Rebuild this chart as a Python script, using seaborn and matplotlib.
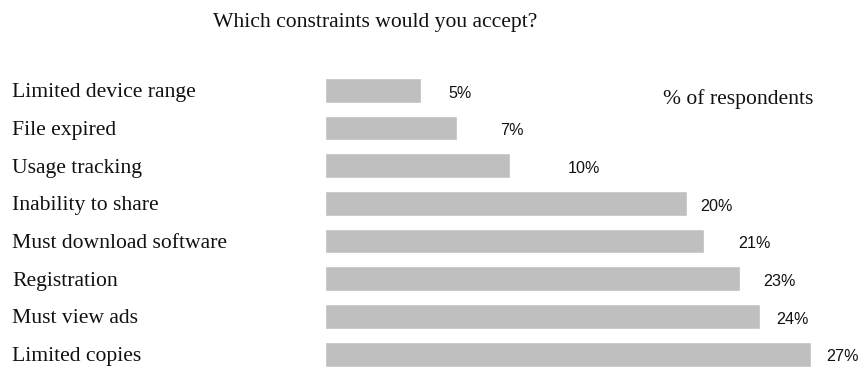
"""Horizontal bar chart of which content constraints respondents would accept."""
import pandas as pd
import seaborn as sns
import matplotlib.pyplot as plt
from matplotlib.transforms import blended_transform_factory

# Step 1: the data
constraints = [
    "Limited device range",
    "File expired",
    "Usage tracking",
    "Inability to share",
    "Must download software",
    "Registration",
    "Must view ads",
    "Limited copies",
]
percent = [5.32, 7.32, 10.28, 20.09, 21.06, 23.06, 24.17, 27.0]
percent_labels = ["5%", "7%", "10%", "20%", "21%", "23%", "24%", "27%"]
# gap between bar end and its label, in pixels (irregular in the original)
label_gap_px = [27.6, 43.3, 58, 14, 34, 22.7, 16, 15]

df = pd.DataFrame({"constraint": constraints, "percent": percent})

# Step 2: figure and axes
sns.set_style("white")
fig = plt.figure(figsize=(8.59, 3.7), dpi=100)
ax = fig.add_axes([325 / 859, 0, 504 / 859, 1])

sns.barplot(data=df, x="percent", y="constraint", orient="h", color="#bfbfbf",
            saturation=1, width=0.658, ax=ax)

ax.set_xlim(0, 28)
ax.set_ylim(7.42, -2.395)
ax.axis("off")

serif = "Liberation Serif"
sans = "Liberation Sans"

# Step 3: category labels on the left, left-aligned
trans = blended_transform_factory(fig.transFigure, ax.transData)
for i, name in enumerate(constraints):
    ax.text(12 / 859, i, name, transform=trans, ha="left", va="center_baseline",
            fontsize=15.6, family=serif, color="#111111")

# Step 4: value labels after each bar
for i, (v, lab, gap) in enumerate(zip(percent, percent_labels, label_gap_px)):
    ax.annotate(lab, xy=(v, i), xytext=(gap * 0.72, -2), textcoords="offset points",
                ha="left", va="center", fontsize=11.6, family=sans, color="#111111")

# Step 5: title and unit note
fig.text(213 / 859, 1 - 20 / 370, "Which constraints would you accept?", ha="left",
         va="center_baseline", fontsize=15.6, family=serif, color="#111111")
fig.text(663 / 859, 1 - 97 / 370, "% of respondents", ha="left",
         va="center_baseline", fontsize=15.6, family=serif, color="#111111")

# Step 6: save
fig.savefig("out.png", dpi=100)
